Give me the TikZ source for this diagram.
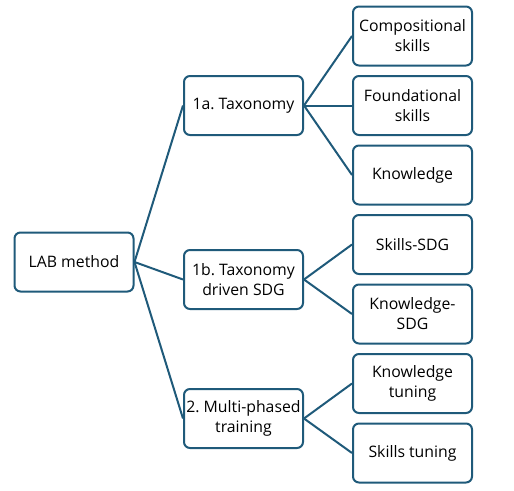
\documentclass[tikz,border=0pt]{standalone}
\usepackage{fontspec}
\setmainfont{Open Sans}
\usepackage{xcolor}
\usepackage{tikz}
\frenchspacing
\definecolor{edge}{HTML}{1F5A7A}
\definecolor{ink}{HTML}{000000}
\tikzset{
  box/.style={draw=edge, line width=2pt, rounded corners=6pt, fill=white,
    minimum width=119pt, minimum height=59pt, inner sep=2pt,
    align=center, text=ink, font=\fontsize{15.8}{20}\selectfont},
  link/.style={draw=edge, line width=2pt},
}

\begin{document}
\begin{tikzpicture}[x=1pt,y=-1pt]
  \useasboundingbox (0,0) rectangle (514,490);
  % root and the three branches
  \node[box] (lab)   at (74,262)    {LAB method};
  \node[box] (tax)   at (243.5,105.5) {1a. Taxonomy};
  \node[box] (sdg)   at (243.5,279.5) {1b. Taxonomy\\driven SDG};
  \node[box] (train) at (243.5,418.5) {2. Multi-phased\\training};
  % leaves
  \node[box] (comp)  at (412.5,36)    {Compositional\\skills};
  \node[box] (found) at (412.5,105.5) {Foundational\\skills};
  \node[box] (know)  at (412.5,175)   {Knowledge};
  \node[box] (ssdg)  at (412.5,244.5) {Skills-SDG};
  \node[box] (ksdg)  at (412.5,314)   {Knowledge-\\SDG};
  \node[box] (ktune) at (412.5,383.5) {Knowledge\\tuning};
  \node[box] (stune) at (412.5,453)   {Skills tuning};
  % connectors
  \draw[link] (lab.east) -- (tax.west);
  \draw[link] (lab.east) -- (sdg.west);
  \draw[link] (lab.east) -- (train.west);
  \draw[link] (tax.east) -- (comp.west);
  \draw[link] (tax.east) -- (found.west);
  \draw[link] (tax.east) -- (know.west);
  \draw[link] (sdg.east) -- (ssdg.west);
  \draw[link] (sdg.east) -- (ksdg.west);
  \draw[link] (train.east) -- (ktune.west);
  \draw[link] (train.east) -- (stune.west);
\end{tikzpicture}
\end{document}
